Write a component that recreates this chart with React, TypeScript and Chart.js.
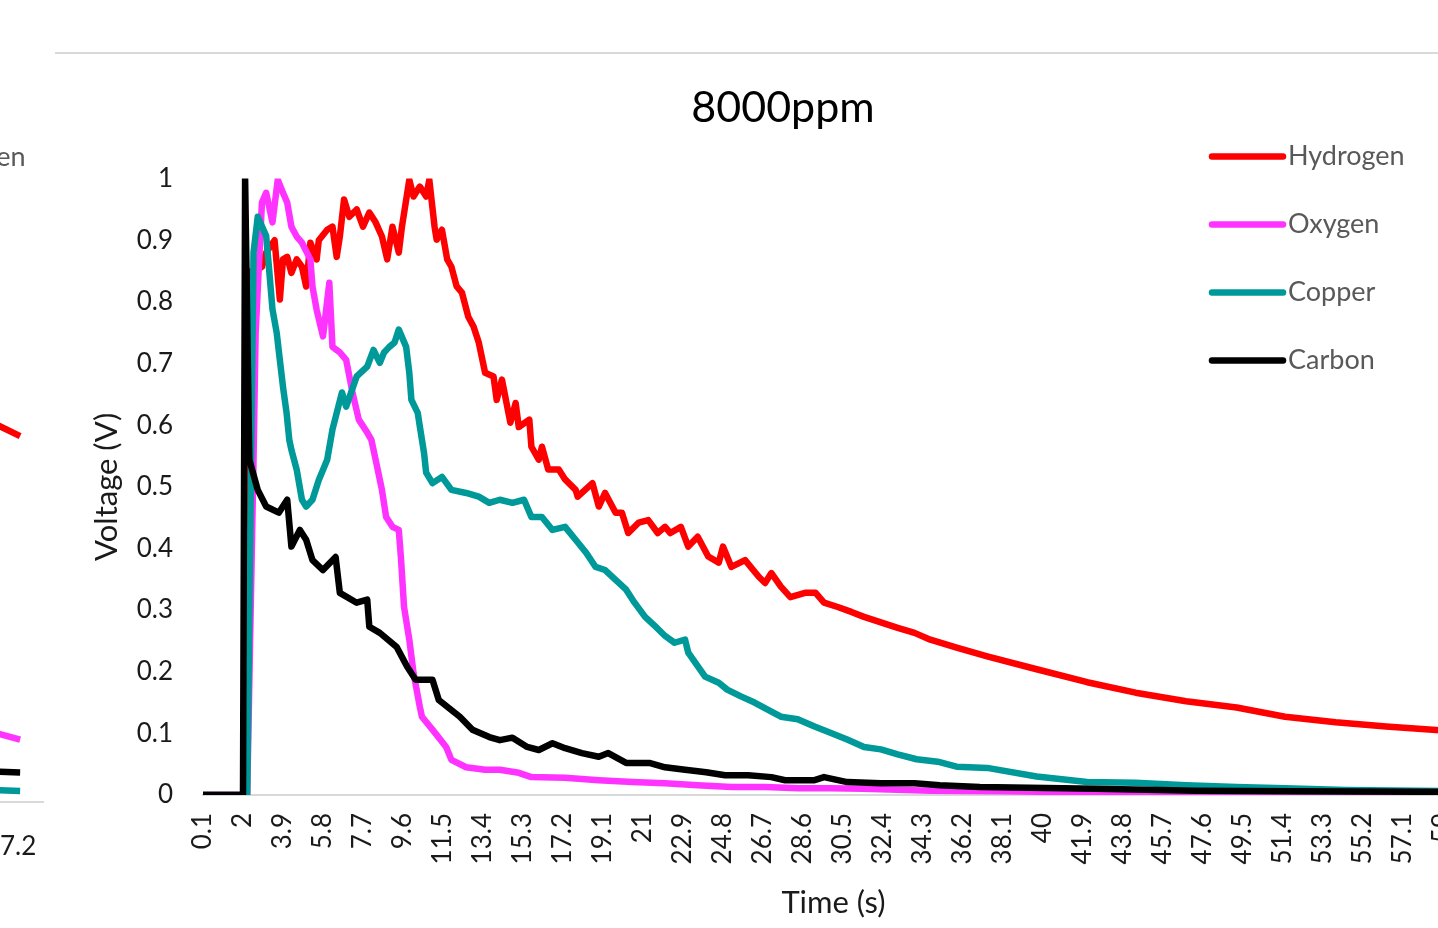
import React, { useEffect, useRef } from "react";
import { Chart, registerables } from "chart.js";

Chart.register(...registerables);

const FONT = "Lato, 'Open Sans', sans-serif";
Chart.defaults.font.family = FONT;

const chartTitle = "8000ppm";
const xAxisTitle = "Time (s)";
const yAxisTitle = "Voltage (V)";
const seriesNames = ["Hydrogen", "Oxygen", "Copper", "Carbon"];
const seriesColors = ["#ff0000", "#ff33ff", "#009999", "#000000"];

const xTickLabels = [
  "0.1", "2", "3.9", "5.8", "7.7", "9.6", "11.5", "13.4", "15.3", "17.2", "19.1", "21",
  "22.9", "24.8", "26.7", "28.6", "30.5", "32.4", "34.3", "36.2", "38.1", "40", "41.9",
  "43.8", "45.7", "47.6", "49.5", "51.4", "53.3", "55.2", "57.1", "59",
];
const yTickLabels = ["0", "0.1", "0.2", "0.3", "0.4", "0.5", "0.6", "0.7", "0.8", "0.9", "1"];

// [time (s), voltage (V)]
const hydrogen: [number, number][] = [
  [0.1, 0], [2.1, 0], [2.4, 0.85], [2.7, 0.852], [2.9, 0.857], [3.1, 0.88], [3.5, 0.9],
  [3.75, 0.804], [3.9, 0.869], [4.1, 0.873], [4.3, 0.847], [4.55, 0.869], [4.8, 0.857],
  [5.0, 0.825], [5.2, 0.896], [5.5, 0.869], [5.6, 0.9], [6.0, 0.917], [6.25, 0.922],
  [6.45, 0.873], [6.6, 0.906], [6.8, 0.966], [7.05, 0.938], [7.4, 0.95], [7.7, 0.922],
  [8.0, 0.945], [8.3, 0.929], [8.6, 0.906], [8.85, 0.869], [9.1, 0.922], [9.4, 0.88],
  [9.55, 0.922], [9.9, 0.998], [10.1, 0.971], [10.4, 0.987], [10.7, 0.971], [10.85, 0.998],
  [11.1, 0.922], [11.2, 0.901], [11.45, 0.917], [11.7, 0.869], [11.9, 0.857], [12.15, 0.825],
  [12.4, 0.815], [12.7, 0.776], [12.95, 0.76], [13.2, 0.734], [13.5, 0.685], [13.9, 0.679],
  [14.05, 0.641], [14.3, 0.674], [14.7, 0.604], [14.95, 0.636], [15.1, 0.597], [15.6, 0.609],
  [15.7, 0.565], [16.05, 0.544], [16.2, 0.565], [16.5, 0.528], [17.0, 0.528], [17.3, 0.512],
  [17.8, 0.495], [17.9, 0.484], [18.6, 0.506], [18.9, 0.468], [19.2, 0.49], [19.7, 0.458],
  [20.0, 0.458], [20.3, 0.425], [20.8, 0.442], [21.25, 0.446], [21.7, 0.425], [22.05, 0.435],
  [22.3, 0.425], [22.8, 0.435], [23.15, 0.403], [23.6, 0.419], [24.1, 0.387], [24.6, 0.377],
  [24.8, 0.403], [25.2, 0.37], [25.85, 0.381], [26.5, 0.354], [26.8, 0.344], [27.1, 0.36],
  [27.55, 0.338], [28.0, 0.321], [28.7, 0.328], [29.2, 0.328], [29.6, 0.312], [30.25, 0.305],
  [30.9, 0.297], [31.5, 0.289], [32.3, 0.28], [33.1, 0.271], [33.9, 0.263], [34.65, 0.252],
  [35.9, 0.239], [37.35, 0.225], [39.7, 0.204], [42.1, 0.183], [44.4, 0.166], [46.8, 0.152],
  [49.2, 0.142], [51.5, 0.127], [53.9, 0.118], [56.3, 0.111], [58.5, 0.106], [60.0, 0.102],
];

const oxygen: [number, number][] = [
  [0.1, 0], [2.2, 0], [2.5, 0.544], [2.6, 0.75], [2.9, 0.961], [3.1, 0.977], [3.4, 0.929],
  [3.65, 0.998], [3.9, 0.977], [4.1, 0.961], [4.3, 0.922], [4.55, 0.906], [4.8, 0.896],
  [5.2, 0.869], [5.3, 0.825], [5.5, 0.787], [5.8, 0.744], [6.1, 0.831], [6.25, 0.727],
  [6.6, 0.718], [6.9, 0.706], [7.2, 0.653], [7.5, 0.609], [7.9, 0.588], [8.1, 0.576],
  [8.35, 0.536], [8.6, 0.495], [8.8, 0.451], [9.1, 0.435], [9.4, 0.43], [9.5, 0.386],
  [9.65, 0.305], [9.9, 0.252], [10.1, 0.198], [10.4, 0.143], [10.5, 0.127], [11.0, 0.106],
  [11.65, 0.078], [11.9, 0.057], [12.6, 0.045], [13.5, 0.041], [14.2, 0.041], [15.1, 0.036],
  [15.7, 0.029], [17.3, 0.028], [18.9, 0.024], [20.5, 0.021], [22.05, 0.019], [23.6, 0.016],
  [25.2, 0.013], [26.8, 0.013], [28.4, 0.011], [29.9, 0.011], [31.5, 0.01], [34.65, 0.007],
  [38.0, 0.006], [43.0, 0.004], [48.7, 0.003], [54.0, 0.002], [60.0, 0.002],
];

const copper: [number, number][] = [
  [0.1, 0], [2.2, 0], [2.5, 0.88], [2.7, 0.938], [3.1, 0.907], [3.2, 0.869], [3.4, 0.788],
  [3.6, 0.75], [3.75, 0.706], [3.9, 0.662], [4.07, 0.62], [4.2, 0.576], [4.3, 0.56],
  [4.55, 0.528], [4.8, 0.479], [5.0, 0.468], [5.3, 0.479], [5.6, 0.511], [6.0, 0.544],
  [6.25, 0.593], [6.7, 0.653], [6.9, 0.63], [7.4, 0.679], [7.9, 0.695], [8.2, 0.722],
  [8.5, 0.701], [8.7, 0.718], [8.95, 0.727], [9.2, 0.734], [9.4, 0.755], [9.75, 0.727],
  [9.9, 0.685], [10.0, 0.641], [10.3, 0.62], [10.4, 0.598], [10.6, 0.555], [10.7, 0.523],
  [11.0, 0.506], [11.45, 0.516], [11.9, 0.495], [12.6, 0.49], [13.2, 0.484], [13.7, 0.474],
  [14.2, 0.479], [14.8, 0.474], [15.35, 0.479], [15.7, 0.451], [16.2, 0.451], [16.7, 0.43],
  [17.3, 0.435], [17.8, 0.414], [18.3, 0.393], [18.75, 0.37], [19.2, 0.365], [19.7, 0.349],
  [20.2, 0.333], [20.6, 0.312], [21.1, 0.289], [21.6, 0.273], [22.05, 0.258], [22.5, 0.247],
  [23.0, 0.252], [23.15, 0.231], [23.6, 0.209], [23.95, 0.192], [24.6, 0.182], [25.0, 0.171],
  [25.65, 0.16], [26.3, 0.15], [26.9, 0.139], [27.55, 0.127], [28.35, 0.123], [29.15, 0.111],
  [29.9, 0.101], [30.7, 0.09], [31.5, 0.078], [32.3, 0.074], [33.1, 0.066], [34.0, 0.058],
  [35.0, 0.054], [35.9, 0.046], [37.35, 0.044], [39.7, 0.03], [42.1, 0.021], [44.4, 0.02],
  [46.8, 0.016], [49.2, 0.013], [51.5, 0.011], [54.4, 0.008], [60.0, 0.006],
];

const carbon: [number, number][] = [
  [0.1, 0], [2.0, 0], [2.1, 1.0], [2.3, 0.544], [2.7, 0.495], [3.1, 0.468], [3.7, 0.458],
  [4.1, 0.479], [4.3, 0.403], [4.7, 0.43], [5.0, 0.414], [5.3, 0.381], [5.8, 0.365],
  [6.4, 0.386], [6.6, 0.328], [7.4, 0.312], [7.9, 0.317], [8.0, 0.273], [8.5, 0.263],
  [9.3, 0.24], [9.8, 0.208], [10.2, 0.187], [11.0, 0.187], [11.3, 0.154], [12.3, 0.127],
  [12.9, 0.106], [13.7, 0.094], [14.2, 0.089], [14.8, 0.093], [15.5, 0.078], [16.05, 0.073],
  [16.7, 0.084], [17.3, 0.076], [18.1, 0.068], [18.9, 0.062], [19.35, 0.068], [20.2, 0.052],
  [21.3, 0.052], [22.05, 0.045], [23.0, 0.041], [24.0, 0.037], [24.9, 0.032], [26.0, 0.032],
  [27.1, 0.029], [27.75, 0.024], [29.15, 0.024], [29.6, 0.029], [30.7, 0.021], [32.3, 0.019],
  [33.9, 0.019], [35.1, 0.016], [37.0, 0.013], [42.5, 0.01], [47.3, 0.007], [52.0, 0.006],
  [60.0, 0.005],
];

// Neighbouring chart, only its right edge is visible in the picture
const leftTickLabels = ["57.2"];
const leftHydrogen: [number, number][] = [[56.4, 0.627], [56.95, 0.609], [57.42, 0.593]];
const leftOxygen: [number, number][] = [[56.4, 0.12], [56.95, 0.11], [57.42, 0.101]];
const leftCopper: [number, number][] = [[56.4, 0.02], [56.95, 0.019], [57.42, 0.018]];
const leftCarbon: [number, number][] = [[56.4, 0.05], [56.95, 0.049], [57.42, 0.048]];

const mainSeries = [hydrogen, oxygen, copper, carbon];
const leftSeries = [leftHydrogen, leftOxygen, leftCopper, leftCarbon];

const sideLegend = {
  id: "sideLegend",
  afterDatasetsDraw(chart: any, _args: any, opts: any) {
    const { ctx, chartArea } = chart;
    const x0 = chartArea.right + opts.offsetX;
    ctx.save();
    chart.data.datasets.forEach((ds: any, i: number) => {
      const y = chartArea.top + opts.offsetY + i * opts.spacing;
      ctx.strokeStyle = ds.borderColor;
      ctx.lineWidth = opts.lineWidth;
      ctx.lineCap = "round";
      ctx.beginPath();
      ctx.moveTo(x0, y);
      ctx.lineTo(x0 + opts.lineLength, y);
      ctx.stroke();
      ctx.fillStyle = opts.color;
      ctx.font = `${opts.fontSize}px ${FONT}`;
      ctx.textBaseline = "middle";
      ctx.textAlign = "left";
      ctx.fillText(ds.label, x0 + opts.lineLength + opts.gap, y);
    });
    ctx.restore();
  },
};

function makeDatasets(series: [number, number][][], cap: string) {
  return series.map((s, i) => ({
    label: seriesNames[i],
    data: s.map(([x, y]) => ({ x, y })),
    borderColor: seriesColors[i],
    backgroundColor: seriesColors[i],
    borderWidth: 6.5,
    borderJoinStyle: "round",
    borderCapStyle: cap,
    pointRadius: 0,
    tension: 0,
    fill: false,
    order: series.length - i,
  }));
}

const TEXT = "#1a1a1a";

function mainConfig(): any {
  const xTickValues = xTickLabels.map(parseFloat);
  const yTickValues = yTickLabels.map(parseFloat);
  return {
    type: "line",
    data: { datasets: makeDatasets(mainSeries, "round") },
    plugins: [sideLegend],
    options: {
      responsive: false,
      animation: false,
      events: [],
      layout: { padding: { left: 0, right: 0, top: 0, bottom: 0 } },
      plugins: {
        legend: { display: false },
        tooltip: { enabled: false },
        title: {
          display: true,
          text: chartTitle,
          color: "#000",
          font: { family: FONT, size: 43, weight: "normal", lineHeight: 1.2 },
          padding: { top: 29, bottom: 45 },
        },
        sideLegend: {
          offsetX: -252,
          offsetY: -22,
          spacing: 68,
          lineLength: 71,
          gap: 5,
          lineWidth: 6.5,
          fontSize: 27,
          color: "#595959",
        },
      },
      scales: {
        x: {
          type: "linear",
          min: 0.1,
          max: 60,
          afterBuildTicks: (s: any) => {
            s.ticks = xTickValues.map((v) => ({ value: v }));
          },
          afterFit: (s: any) => {
            s.height = 158;
            s.paddingLeft = 0;
            s.paddingRight = 47;
          },
          ticks: {
            autoSkip: false,
            minRotation: 90,
            maxRotation: 90,
            padding: 18,
            color: TEXT,
            font: { family: FONT, size: 26 },
            callback: (_v: any, i: number) => xTickLabels[i],
          },
          grid: { display: false, drawTicks: false },
          border: { display: true, color: "#d9d9d9", width: 2 },
          title: {
            display: true,
            text: xAxisTitle,
            color: TEXT,
            font: { family: FONT, size: 31, lineHeight: 1.2 },
            padding: { top: 0, bottom: 31 },
          },
        },
        y: {
          type: "linear",
          min: 0,
          max: 1,
          afterBuildTicks: (s: any) => {
            s.ticks = yTickValues.map((v) => ({ value: v }));
          },
          afterFit: (s: any) => {
            s.width = 148;
          },
          ticks: {
            padding: 30,
            color: TEXT,
            font: { family: FONT, size: 26 },
            callback: (_v: any, i: number) => yTickLabels[i],
          },
          grid: { display: false, drawTicks: false },
          border: { display: false },
          title: {
            display: true,
            text: yAxisTitle,
            color: TEXT,
            font: { family: FONT, size: 31, lineHeight: 1.2 },
            padding: { top: 33, bottom: 0 },
          },
        },
      },
    },
  };
}

function leftConfig(): any {
  const leftTickValues = leftTickLabels.map(parseFloat);
  return {
    type: "line",
    data: { datasets: makeDatasets(leftSeries, "butt") },
    plugins: [sideLegend],
    options: {
      responsive: false,
      animation: false,
      events: [],
      layout: { padding: { left: 0, right: 7, top: 132, bottom: 0 } },
      plugins: {
        legend: { display: false },
        tooltip: { enabled: false },
        title: { display: false },
        sideLegend: {
          offsetX: -210,
          offsetY: -28,
          spacing: 68,
          lineLength: 71,
          gap: 5,
          lineWidth: 6.5,
          fontSize: 27,
          color: "#595959",
        },
      },
      scales: {
        x: {
          type: "linear",
          min: 50,
          max: 57.95,
          afterBuildTicks: (s: any) => {
            s.ticks = leftTickValues.map((v) => ({ value: v }));
          },
          afterFit: (s: any) => {
            s.height = 151;
            s.paddingLeft = 0;
            s.paddingRight = 0;
          },
          ticks: {
            autoSkip: false,
            minRotation: 0,
            maxRotation: 0,
            padding: 29,
            color: TEXT,
            font: { family: FONT, size: 26 },
            callback: (_v: any, i: number) => leftTickLabels[i],
          },
          grid: { display: false, drawTicks: false },
          border: { display: true, color: "#d9d9d9", width: 2 },
        },
        y: { type: "linear", min: 0, max: 1, display: false },
      },
    },
  };
}

export default function App() {
  const mainRef = useRef<HTMLCanvasElement>(null);
  const leftRef = useRef<HTMLCanvasElement>(null);

  useEffect(() => {
    const main = new Chart(mainRef.current as HTMLCanvasElement, mainConfig());
    const left = new Chart(leftRef.current as HTMLCanvasElement, leftConfig());
    return () => {
      main.destroy();
      left.destroy();
    };
  }, []);

  return (
    <div
      style={{
        position: "fixed",
        left: 0,
        top: 0,
        width: 1438,
        height: 928,
        overflow: "hidden",
        background: "#ffffff",
      }}
    >
      <canvas
        ref={leftRef}
        width={350}
        height={900}
        style={{ position: "absolute", left: -300, top: 53, width: 350, height: 900, display: "block" }}
      />
      <div style={{ position: "absolute", left: 55, top: 52, right: 0, height: 2, background: "#d9d9d9" }} />
      <canvas
        ref={mainRef}
        width={1456}
        height={900}
        style={{ position: "absolute", left: 55, top: 53, width: 1456, height: 900, display: "block" }}
      />
    </div>
  );
}
